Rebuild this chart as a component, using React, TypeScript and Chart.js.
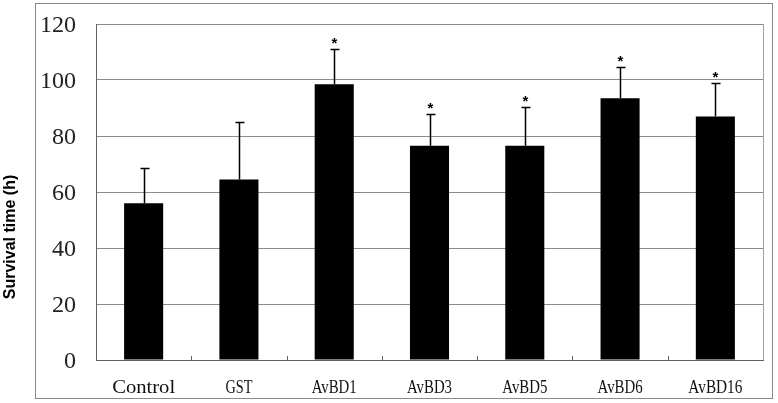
import React, { useEffect, useRef } from "react";
import { Chart, registerables } from "chart.js";

Chart.register(...registerables);

const categories = ["Control", "GST", "AvBD1", "AvBD3", "AvBD5", "AvBD6", "AvBD16"];
const meanValues = [56, 64.5, 98.5, 76.5, 76.5, 93.5, 87];
const upperErrors = [68.5, 85, 111, 88, 90.5, 104.5, 99];
const significant = [false, false, true, true, true, true, true];
const yTicks = [0, 20, 40, 60, 80, 100, 120];
const yTitle = "Survival time (h)";

const extrasPlugin = {
  id: "extras",
  afterDatasetsDraw(chart: any) {
    const { ctx, chartArea, scales } = chart;
    const x = scales.x;
    const y = scales.y;
    ctx.save();
    // right border of plot
    ctx.strokeStyle = "#a0a0a0";
    ctx.lineWidth = 1;
    ctx.beginPath();
    ctx.moveTo(chartArea.right + 0.5, chartArea.top);
    ctx.lineTo(chartArea.right + 0.5, chartArea.bottom);
    ctx.stroke();
    // category boundary tick marks (pointing up)
    ctx.strokeStyle = "#606060";
    for (let i = 0; i < categories.length - 1; i++) {
      const px = Math.round((x.getPixelForValue(i) + x.getPixelForValue(i + 1)) / 2) + 0.5;
      ctx.beginPath();
      ctx.moveTo(px, chartArea.bottom);
      ctx.lineTo(px, chartArea.bottom - 4);
      ctx.stroke();
    }
    // category labels (SimSun-like fixed-pitch serif look: ~9px per character)
    ctx.fillStyle = "#111";
    ctx.font = "19px 'Liberation Serif', 'Times New Roman', serif";
    ctx.textAlign = "center";
    ctx.textBaseline = "alphabetic";
    for (let i = 0; i < categories.length; i++) {
      const cx = x.getPixelForValue(i);
      const w = ctx.measureText(categories[i]).width;
      const s = (9 * categories[i].length) / w;
      ctx.save();
      ctx.translate(cx, 393);
      ctx.scale(s, 1);
      ctx.fillText(categories[i], 0, 0);
      ctx.restore();
    }
    // y-axis title
    ctx.save();
    ctx.fillStyle = "#000";
    ctx.font = "bold 16px 'Liberation Sans', Arial, sans-serif";
    ctx.textAlign = "center";
    ctx.textBaseline = "alphabetic";
    ctx.translate(15, 237);
    ctx.rotate(-Math.PI / 2);
    ctx.fillText(yTitle, 0, 0);
    ctx.restore();
    // error bars
    ctx.strokeStyle = "#000";
    ctx.lineWidth = 1.5;
    for (let i = 0; i < categories.length; i++) {
      const cx = Math.round(x.getPixelForValue(i)) + 0.5;
      const y0 = y.getPixelForValue(meanValues[i]);
      const y1 = Math.round(y.getPixelForValue(upperErrors[i])) + 0.5;
      ctx.beginPath();
      ctx.moveTo(cx, y0);
      ctx.lineTo(cx, y1);
      ctx.moveTo(cx - 4, y1);
      ctx.lineTo(cx + 5, y1);
      ctx.stroke();
      if (significant[i]) {
        ctx.fillStyle = "#000";
        ctx.font = "bold 15px 'Liberation Sans', Arial, sans-serif";
        ctx.textAlign = "center";
        ctx.textBaseline = "alphabetic";
        ctx.fillText("*", cx, y1 - 2);
      }
    }
    ctx.restore();
  },
  afterDraw(chart: any) {
    const { ctx } = chart;
    ctx.save();
    ctx.strokeStyle = "#8a8a8a";
    ctx.lineWidth = 1;
    ctx.strokeRect(35.5, 3.5, 737, 395);
    ctx.restore();
  },
};

export default function App() {
  const ref = useRef<HTMLCanvasElement>(null);
  useEffect(() => {
    if (!ref.current) return;
    const chart = new Chart(ref.current, {
      type: "bar",
      data: {
        labels: categories,
        datasets: [
          {
            data: meanValues,
            backgroundColor: "#000",
            borderWidth: 0,
            categoryPercentage: 1,
            barPercentage: 0.41,
          },
        ],
      },
      options: {
        animation: false,
        responsive: false,
        layout: { padding: { left: 0, top: 24, right: 15, bottom: 0 } },
        plugins: { legend: { display: false }, tooltip: { enabled: false } },
        scales: {
          x: {
            grid: { display: false, drawTicks: false },
            border: { color: "#606060", width: 1 },
            ticks: { display: false },
            afterFit(scale: any) {
              scale.height = 43;
              scale.paddingLeft = 0;
              scale.paddingRight = 0;
            },
          },
          y: {
            min: 0,
            max: 120,
            afterBuildTicks(scale: any) {
              scale.ticks = yTicks.map((v) => ({ value: v }));
            },
            grid: { color: "#8c8c8c", drawTicks: false, lineWidth: 1 },
            border: { color: "#606060", width: 1 },
            ticks: {
              color: "#222",
              padding: 20,
              labelOffset: 2,
              font: { family: "'Liberation Serif', 'Times New Roman', serif", size: 24 },
            },
            title: { display: false },
            afterFit(scale: any) {
              scale.width = 96;
              scale.paddingTop = 0;
              scale.paddingBottom = 0;
            },
          },
        },
      },
      plugins: [extrasPlugin],
    });
    return () => chart.destroy();
  }, []);
  return (
    <div style={{ position: "fixed", left: 0, top: 0, width: 778, height: 403, background: "#fff" }}>
      <canvas ref={ref} width={778} height={403} style={{ width: 778, height: 403 }} />
    </div>
  );
}
